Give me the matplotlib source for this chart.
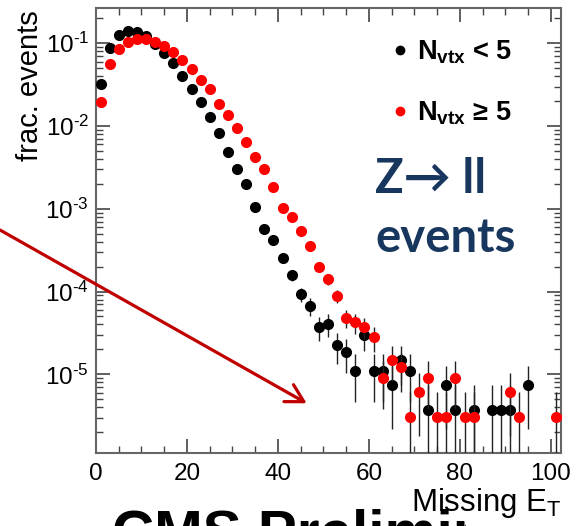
import numpy as np
import matplotlib
matplotlib.use("Agg")
from matplotlib import pyplot as plt
from matplotlib.lines import Line2D
from matplotlib.transforms import Bbox
from matplotlib.ticker import MultipleLocator, LogLocator, FuncFormatter, NullFormatter

plt.rcParams['font.family'] = ['Liberation Sans', 'DejaVu Sans']
plt.rcParams['mathtext.fontset'] = 'custom'
plt.rcParams['mathtext.rm'] = 'Liberation Sans'
plt.rcParams['mathtext.it'] = 'Liberation Sans:italic'
plt.rcParams['mathtext.bf'] = 'Liberation Sans:bold'

# Missing E_T, 2 GeV bins (bin centres), fraction of events
met_low = [1, 3, 5, 7, 9, 11, 13, 15, 17, 19, 21, 23, 25, 27, 29, 31, 33, 35,
           37, 39, 41, 43, 45, 47, 49, 51, 53, 55, 57, 59, 61, 63, 65, 67, 69,
           73, 77, 79, 83, 87, 89, 91, 95]
frac_low = [0.0322, 0.0885, 0.126, 0.142, 0.138, 0.1236, 0.0972, 0.0769, 0.0583,
            0.0403, 0.0281, 0.0197, 0.01276, 0.00832, 0.0049, 0.0030, 0.00197,
            0.00106, 0.000565, 0.00042, 0.000252, 0.000157, 9.3e-5, 6.7e-5,
            3.7e-5, 4.07e-5, 2.24e-5, 1.86e-5, 1.11e-5, 2.96e-5, 1.11e-5,
            1.11e-5, 7.4e-6, 1.48e-5, 1.11e-5,
            3.7e-6, 7.4e-6, 3.7e-6, 3.7e-6, 3.7e-6, 3.7e-6, 3.7e-6, 7.4e-6]

met_high = [1, 3, 5, 7, 9, 11, 13, 15, 17, 19, 21, 23, 25, 27, 29, 31, 33, 35,
            37, 39, 41, 43, 45, 47, 49, 51, 53, 55, 57, 59, 61, 63, 65, 67, 69,
            71, 73, 75, 77, 79, 81, 83, 91, 93, 101]
frac_high = [0.0197, 0.0562, 0.0846, 0.1045, 0.1117, 0.1117, 0.1028, 0.0935,
             0.0778, 0.0628, 0.0485, 0.036, 0.0278, 0.0183, 0.0136, 0.00955,
             0.00647, 0.00426, 0.0030, 0.00181, 0.00103, 0.000796, 0.000535,
             0.000352, 0.0002, 0.000142, 8.9e-5, 4.82e-5, 4.23e-5, 3.71e-5,
             2.79e-5, 9.14e-6, 1.51e-5, 1.22e-5, 3.05e-6, 6.1e-6, 9.14e-6,
             3.05e-6, 3.05e-6, 9.14e-6, 3.05e-6, 3.05e-6, 6.1e-6, 3.05e-6, 3.05e-6]

# weight of a single event in each sample (for poisson errors)
w_low = 3.7e-6
w_high = 3.05e-6

labels = [r'$\mathbf{N}_{\mathbf{vtx}}$ < 5', r'$\mathbf{N}_{\mathbf{vtx}}$ ≥ 5']


def poisson_err(y, w):
    y = np.array(y)
    err = np.sqrt(y * w)
    lo = np.minimum(err, y * 0.9999)
    return [lo, err]


fig = plt.figure(figsize=(5.85, 5.26), dpi=100)
ax = fig.add_axes([96/585, 1-453/526, 465/585, 445/526])

ax.errorbar(met_low, frac_low, yerr=poisson_err(frac_low, w_low), xerr=1,
            fmt='o', color='black', ms=7, ecolor='#222222', elinewidth=1.0,
            capsize=0, zorder=3)
ax.errorbar(met_high, frac_high, yerr=poisson_err(frac_high, w_high), xerr=1,
            fmt='o', color='red', ms=7, ecolor='#222222', elinewidth=1.0,
            capsize=0, zorder=4)

ax.set_yscale('log')
ax.set_ylim(1.12e-6, 0.267)
ax.set_xlim(0, 102.2)

ax.xaxis.set_major_locator(MultipleLocator(20))
ax.xaxis.set_minor_locator(MultipleLocator(5))
ax.yaxis.set_major_locator(LogLocator(base=10))
ax.yaxis.set_minor_locator(LogLocator(base=10, subs=np.arange(2, 10)))
ax.yaxis.set_minor_formatter(NullFormatter())
ax.yaxis.set_major_formatter(
    FuncFormatter(lambda v, p: r'$10^{\text{-}%d}$' % abs(round(np.log10(v)))))

ax.tick_params(which='both', direction='in', top=True, right=True,
               labelsize=17.5, color='#444444')
ax.tick_params(which='major', length=10, width=1.2, pad=7)
ax.tick_params(which='minor', length=5, width=1.0)
ax.tick_params(axis='y', which='major', pad=5)
for s in ax.spines.values():
    s.set_color('#666666')
    s.set_linewidth(1.5)

# axis titles
fig.text(30/585, 1-10/526, 'frac. events', rotation=90, ha='center', va='top', fontsize=21)
fig.text(562/585, 1-511/526, r'Missing $\mathrm{E_T}$', ha='right', va='baseline', fontsize=22.5)

# legend
handles = [Line2D([], [], marker='o', ls='none', color='black', ms=6),
           Line2D([], [], marker='o', ls='none', color='red', ms=6)]
ax.legend(handles, labels, prop={'weight': 'bold', 'size': 19.5}, frameon=False,
          loc='upper left', bbox_to_anchor=(393/585, 1-38/526),
          bbox_transform=fig.transFigure, handlelength=0.55, handletextpad=0.35,
          labelspacing=1.25, borderpad=0, borderaxespad=0)

# slide annotations
navy = '#17375E'
fig.text(375/585, 1-193/526, 'Z→ ll', color=navy, fontsize=34, fontweight='bold',
         family=['Lato', 'DejaVu Sans'], ha='left', va='baseline')
fig.text(375/585, 1-252/526, 'events', color=navy, fontsize=34, fontweight='bold',
         family=['Lato', 'DejaVu Sans'], ha='left', va='baseline')

ax.annotate('', xy=(306.7/585, 1-403.3/526), xytext=(0, 1-230/526),
            xycoords='figure fraction', textcoords='figure fraction',
            arrowprops=dict(arrowstyle='->,head_length=1.25,head_width=0.7',
                            color='#C00000', lw=2.3, mutation_scale=10,
                            shrinkA=0, shrinkB=0),
            annotation_clip=False, zorder=10)

# slide text partly hidden behind the plot / cut by the crop
cms = fig.text(112/585, 1-509/526, 'CMS Preliminary', fontweight='bold', fontsize=42,
               ha='left', va='top', clip_on=True)
cms.set_clip_box(Bbox.from_extents(0, 0, 466, 526))
fig.text(364/585, 1+9/526, 'y', fontweight='bold', fontsize=32, ha='left', va='baseline')

plt.savefig('out.png', dpi=100)
